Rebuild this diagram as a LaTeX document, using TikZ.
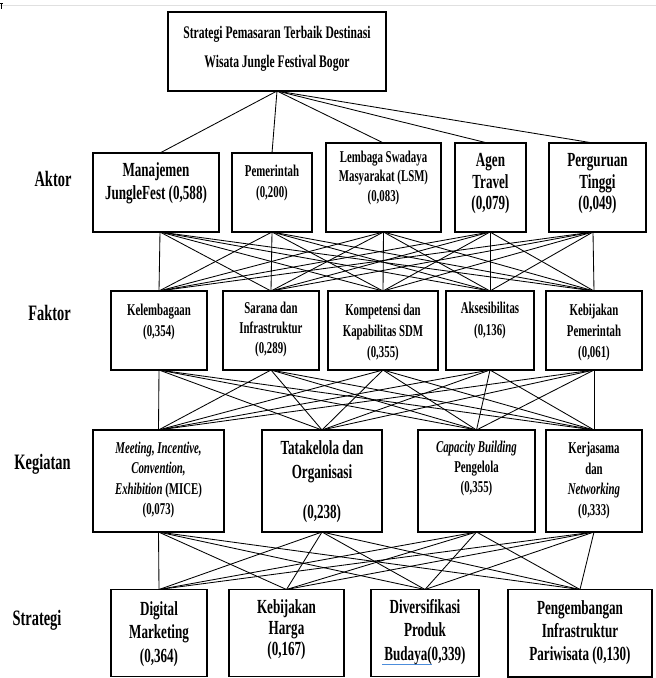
\documentclass[tikz,border=0pt]{standalone}
\usepackage{fontspec}
\setmainfont{Liberation Serif}[FakeStretch=0.655]
\begin{document}
\begin{tikzpicture}[x=1pt,y=-1pt,
  box/.style={draw, line width=1.2pt, inner sep=0pt, outer sep=0pt},
  wire/.style={line width=0.85pt},
  txt/.style={align=center, inner sep=0pt, outer sep=0pt},
  lg/.style={txt, font=\fontsize{20}{#1}\selectfont\bfseries},
  sm/.style={txt, font=\fontsize{16.5}{#1}\selectfont\bfseries},
  lbl/.style={txt, font=\fontsize{22}{26}\selectfont\bfseries}]
\useasboundingbox (0,0) rectangle (656,678);
% page artefacts
\draw[line width=1pt, black!12] (0,5) -- (656,5);
\draw[line width=0.8pt] (0,3) -- (3,3) (1,3) -- (1,9);
% title
\node[box, minimum width=218pt, minimum height=79pt] (top) at (277,51.5) {};
\node[txt, font=\fontsize{17.7}{29}\selectfont\bfseries] (toptxt) at (277,49) {Strategi Pemasaran Terbaik Destinasi\\Wisata Jungle Festival Bogor};
% actors
\node[box, minimum width=126pt, minimum height=79pt] (a1) at (156,192.5) {};
\node[box, minimum width=80pt, minimum height=79pt] (a2) at (272,192.5) {};
\node[box, minimum width=115pt, minimum height=89pt] (a3) at (383.5,187.5) {};
\node[box, minimum width=71pt, minimum height=89pt] (a4) at (490.5,187.5) {};
\node[box, minimum width=97pt, minimum height=89pt] (a5) at (597.5,187.5) {};
\node[lg=23] (a1t) at (156,183) {Manajemen\\JungleFest (0,588)};
\node[sm=20.5] (a2t) at (272,183) {Pemerintah\\(0,200)};
\node[sm=19.5] (a3t) at (383.5,178) {Lembaga Swadaya\\Masyarakat (LSM)\\(0,083)};
\node[lg=21.5] (a4t) at (490.5,184) {Agen\\Travel\\(0,079)};
\node[lg=21.5] (a5t) at (597.5,184) {Perguruan\\Tinggi\\(0,049)};
% factors
\node[box, minimum width=96pt, minimum height=79pt] (f1) at (159,330.5) {};
\node[box, minimum width=96pt, minimum height=79pt] (f2) at (271,330.5) {};
\node[box, minimum width=110pt, minimum height=79pt] (f3) at (383,330.5) {};
\node[box, minimum width=88pt, minimum height=79pt] (f4) at (490,330.5) {};
\node[box, minimum width=96pt, minimum height=79pt] (f5) at (594,330.5) {};
\node[sm=21] (f1t) at (159,322) {Kelembagaan\\(0,354)};
\node[sm=20] (f2t) at (271,329.5) {Sarana dan\\Infrastruktur\\(0,289)};
\node[sm=21] (f3t) at (383,332.5) {Kompetensi dan\\Kapabilitas SDM\\(0,355)};
\node[sm=22] (f4t) at (490,321) {Aksesibilitas\\(0,136)};
\node[sm=21] (f5t) at (594,332.5) {Kebijakan\\Pemerintah\\(0,061)};
% activities
\node[box, minimum width=131pt, minimum height=102pt] (k1) at (158.5,481) {};
\node[box, minimum width=120pt, minimum height=102pt] (k2) at (322,481) {};
\node[box, minimum width=117pt, minimum height=102pt] (k3) at (476.5,481) {};
\node[box, minimum width=96pt, minimum height=102pt] (k4) at (594,481) {};
\node[sm=20.3] (k1t) at (158.5,480) {\textit{Meeting, Incentive,}\\\textit{Convention,}\\\textit{Exhibition} (MICE)\\(0,073)};
\node[lg=24] (k2t) at (322,481.5) {Tatakelola dan\\Organisasi\\[16pt](0,238)};
\node[sm=20] (k3t) at (476.5,468.5) {\textit{Capacity Building}\\Pengelola\\(0,355)};
\node[sm=20.7] (k4t) at (594,480.5) {Kerjasama\\dan\\\textit{Networking}\\(0,333)};
% strategies
\node[box, minimum width=96pt, minimum height=87pt] (s1) at (159,633) {};
\node[box, minimum width=115pt, minimum height=87pt] (s2) at (286.5,633) {};
\node[box, minimum width=108pt, minimum height=87pt] (s3) at (425,633) {};
\node[box, minimum width=144pt, minimum height=87.5pt] (s4) at (580,633.25) {};
\node[lg=23.5] (s1t) at (159,634) {Digital\\Marketing\\(0,364)};
\node[lg=21] (s2t) at (286.5,629.5) {Kebijakan\\Harga\\(0,167)};
\node[lg=23.5] (s3t) at (425,632) {Diversifikasi\\Produk\\Budaya(0,339)};
\node[lg=23] (s4t) at (580,632.5) {Pengembangan\\Infrastruktur\\Pariwisata (0,130)};
\draw[line width=1.3pt, blue!55!cyan!80!black, opacity=0.7] (382,664.5) -- (432,664.5);
% row labels
\node[lbl] (L1) at (53,179) {Aktor};
\node[lbl] (L2) at (49.5,313) {Faktor};
\node[lbl] (L3) at (42.5,464) {Kegiatan};
\node[lbl] (L4) at (37,620) {Strategi};
% connection points
\coordinate (a1n) at ([xshift=4pt]a1.north);
\coordinate (a2n) at (a2.north);
\coordinate (a3n) at (a3.north);
\coordinate (a4n) at ([xshift=-3pt]a4.north);
\coordinate (a5n) at ([xshift=-4.5pt]a5.north);
\coordinate (a1s) at ([xshift=4pt]a1.south);
\coordinate (a2s) at (a2.south);
\coordinate (a3s) at (a3.south);
\coordinate (a4s) at ([xshift=-0.5pt]a4.south);
\coordinate (a5s) at ([xshift=-4.5pt]a5.south);
% connectors
\foreach \i in {1,...,5} \draw[wire] (top.south) -- (a\i n);
\foreach \i in {1,...,5} \foreach \j in {1,...,5} \draw[wire] (a\i s) -- (f\j.north);
\foreach \i in {1,...,5} \foreach \j in {1,...,4} \draw[wire] (f\i.south) -- (k\j.north);
\foreach \i in {1,...,4} \foreach \j in {1,...,4} \draw[wire] (k\i.south) -- (s\j.north);
\end{tikzpicture}
\end{document}
